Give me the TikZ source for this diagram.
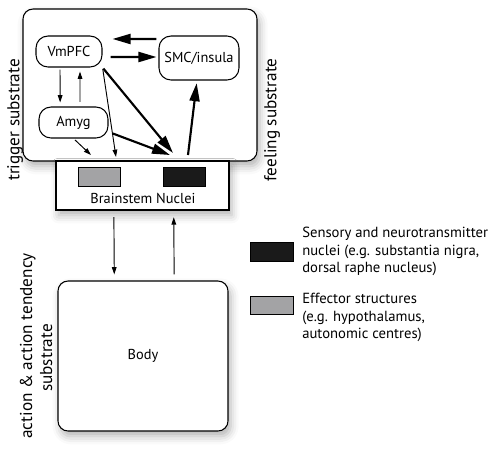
\documentclass[tikz,border=0pt]{standalone}
\usepackage{fontspec}
\setmainfont{PT Sans}
\usetikzlibrary{arrows.meta,shadows.blur}
\definecolor{effgray}{HTML}{A3A3A5}
\definecolor{sensblack}{HTML}{1A1A1A}
\tikzset{
  soft/.style={blur shadow={shadow xshift=2pt,shadow yshift=-4pt,shadow blur radius=6pt,shadow opacity=30}},
  area/.style={draw,line width=0.8pt,fill=white,rounded corners=7.5pt},
  region/.style={draw,line width=0.8pt,fill=white,rounded corners=9pt,font=\fontsize{10.8}{13}\selectfont},
  nuc/.style={draw,line width=0.7pt,minimum width=31.5pt,minimum height=14.25pt},
  side/.style={rotate=90,font=\fontsize{12.9}{15}\selectfont,align=center},
  legtext/.style={align=left,inner sep=0pt,font=\fontsize{11}{13.1}\selectfont},
  thk/.style={-{Triangle[length=13.5pt,width=7.5pt]},line width=1.6pt},
  thn/.style={-{Triangle[length=5.5pt,width=3.5pt]},line width=0.7pt}
}
\begin{document}
\begin{tikzpicture}[x=0.75pt,y=-0.75pt]
  \useasboundingbox (0,0) rectangle (490,458);
  \node[area,soft,minimum width=175.5pt,minimum height=114pt] (trig) at (140,85) {};
  \node[draw,line width=0.8pt,fill=white,soft,minimum width=129.75pt,minimum height=36.75pt] (bsn) at (142.5,185.5) {};
  \draw
    (69,51.5) node[region,minimum width=49.5pt,minimum height=23.25pt] (vmpfc) {VmPFC}
    (199,58) node[region,minimum width=60pt,minimum height=33pt] (smc) {SMC/insula}
    (73.5,122.5) node[region,minimum width=51.75pt,minimum height=23.25pt] (amyg) {Amyg}
    (99,176.5) node[nuc,fill=effgray] (eff) {}
    (184.5,176.5) node[nuc,fill=sensblack] (sens) {}
    (143,198) node[font=\fontsize{10.8}{13}\selectfont] (bsnlabel) {Brainstem Nuclei};
  \node[area,soft,minimum width=127.5pt,minimum height=112.5pt,font=\fontsize{10.8}{13}\selectfont] (body) at (143,356) {Body};
  % side labels
  \node[side] (triglabel) at (15,120) {trigger substrate};
  \node[side] (feellabel) at (272,120) {feeling substrate};
  \node[side] (actlabel) at (36,346) {action \& action tendency\\substrate\hspace*{18pt}};
  % legend
  \node[nuc,fill=sensblack,minimum width=32.25pt] (lsens) at (271.5,251.5) {};
  \node[nuc,fill=effgray,minimum width=32.25pt,minimum height=13.5pt] (leff) at (271.5,305) {};
  \node[legtext,anchor=west] (lsenstext) at (302,251.5) {Sensory and neurotransmitter\\nuclei (e.g. substantia nigra,\\dorsal raphe nucleus)};
  \node[legtext,anchor=north west] (lefftext) at (302,293) {Effector structures\\(e.g. hypothalamus,\\autonomic centres)};
  % free ends in the gap above the nuclei
  \coordinate (effin1) at (116,157);
  \coordinate (effin2) at (91,155);
  \coordinate (sensin1) at (173,153);
  \coordinate (sensin2) at (170,155);
  \coordinate (sensout) at (188,155);
  \begin{scope}
    \draw[thk,shorten <=1.5pt,shorten >=7.5pt] ([yshift=14.25pt]smc.west) -- ([yshift=9.4pt]vmpfc.east);
    \draw[thk,shorten <=6pt,shorten >=1.5pt] ([yshift=-4.1pt]vmpfc.east) -- ([yshift=0.75pt]smc.west);
    \draw[thn,shorten <=1.5pt,shorten >=3pt] ([xshift=-6.75pt]vmpfc.south) -- ([xshift=-10pt]amyg.north);
    \draw[thn,shorten <=3.5pt,shorten >=3pt] ([xshift=4.9pt]amyg.north) -- ([xshift=8.25pt]vmpfc.south);
    \draw[thk,shorten <=3.5pt] (amyg.-15) -- (sensin2);
    \draw[thk,shorten <=1pt,preaction={draw,white,line width=3.2pt,-}] (vmpfc.south east) -- (sensin1);
    \draw[thn,shorten <=1pt] (vmpfc.south east) -- (effin1);
    \draw[thn,shorten <=1.5pt] (amyg.south) -- (effin2);
    \draw[thk,shorten >=2pt] (sensout) -- ([xshift=-1.5pt]smc.south);
    \draw[thn,shorten <=5pt,shorten >=4.5pt] ([xshift=-21.5pt]bsn.south) -- ([xshift=-21.5pt]body.north);
    \draw[thn,shorten <=4.5pt,shorten >=5pt] ([xshift=23.4pt]body.north) -- ([xshift=23.4pt]bsn.south);
  \end{scope}
\end{tikzpicture}
\end{document}
